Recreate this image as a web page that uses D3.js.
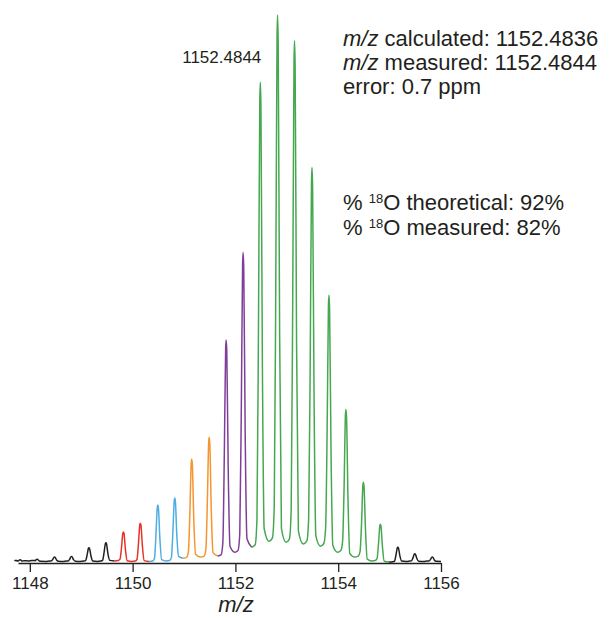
<!DOCTYPE html>
<html>
<head>
<meta charset="utf-8">
<script src="https://cdn.jsdelivr.net/npm/d3@7"></script>
<style>
  body { margin: 0; background: #fff; }
  svg text { font-family: "Liberation Sans", Arial, sans-serif; fill: #231f20; }
</style>
</head>
<body>
<svg id="ms-svg" width="613" height="618"></svg>
<script>
// isotope cluster, apex positions
const peakMz = [1147.81, 1148.14, 1148.48, 1148.81, 1149.15, 1149.48,
  1149.82, 1150.15, 1150.49, 1150.82, 1151.15, 1151.49, 1151.82, 1152.15,
  1152.4844, 1152.82, 1153.15, 1153.49, 1153.82, 1154.15, 1154.49, 1154.82,
  1155.16, 1155.49, 1155.83];
// relative intensity (%) at each apex
const peakInt = [0.4, 0.5, 0.9, 1.0, 2.6, 3.5,
  5.5, 7.1, 10.4, 11.7, 18.8, 22.8, 40.6, 56.6,
  87.7, 100, 95.3, 72.1, 48.8, 27.9, 14.6, 6.9,
  2.7, 1.5, 0.9];
// intensity of the valley following each peak
const valleyInt = [0.2, 0.1, 0.1, 0.1, 0.1, 0.2,
  0.1, 0.1, 0.2, 0.7, 0.9, 1.1, 1.8, 2.7,
  3.8, 3.6, 3.3, 2.9, 1.8, 0.9, 0.2, 0.0,
  0.1, 0.1, 0.1];
// colour group of each peak
const peakGroup = ['base', 'base', 'base', 'base', 'base', 'base',
  'red', 'red', 'blue', 'blue', 'orange', 'orange', 'purple', 'purple',
  'green', 'green', 'green', 'green', 'green', 'green', 'green', 'green',
  'base2', 'base2', 'base2'];
const groupColors = {
  base: '#231f20', red: '#e5332a', blue: '#4eaee2', orange: '#f4952f',
  purple: '#7f3f98', green: '#45a851', base2: '#231f20',
};

const xTicks = [1148, 1150, 1152, 1154, 1156];
const labelMz = 1152.4844;
const infoLines = [
  [['m/z', true], [' calculated: 1152.4836', false]],
  [['m/z', true], [' measured: 1152.4844', false]],
  [['error: 0.7 ppm', false]],
];
const isoLines = [
  ['% ', 'theoretical: 92%'],
  ['% ', 'measured: 82%'],
];

const svg = d3.select('#ms-svg');
const axisY = 563;

const xScale = d3.scaleLinear().domain([1147.77, 1156]).range([18, 441]);
const yScale = d3.scaleLinear().domain([0, 100]).range([axisY - 1, 15]);

/**
 * Builds the profile points of one peak, from the half-way point before it
 * to the half-way point after it
 */
function peakProfile(i) {
  const mz = peakMz[i];
  const h = peakInt[i];
  const lv = i > 0 ? valleyInt[i - 1] : 0.2;
  const rv = valleyInt[i];
  const left = i > 0 ? (peakMz[i - 1] + mz) / 2 : 1147.77;
  const right = i < peakMz.length - 1 ? (peakMz[i + 1] + mz) / 2 : 1156;
  return [
    [left, lv],
    [mz - 0.1, lv * 1.15 + 0.05],
    [mz - 0.065, lv * 1.3 + h * 0.05],
    [mz - 0.035, h * 0.5],
    [mz - 0.01, h * 0.96],
    [mz, h],
    [mz + 0.012, h * 0.95],
    [mz + 0.04, h * 0.42],
    [mz + 0.075, rv * 1.15 + h * 0.02],
    [right, rv],
  ];
}

const line = d3.line()
  .x((d) => xScale(d[0]))
  .y((d) => yScale(d[1]))
  .curve(d3.curveMonotoneX);

// one path per colour group
const groups = Array.from(new Set(peakGroup));
const plotG = svg.append('g').attr('id', 'spectrum');
groups.forEach((grp) => {
  let pts = [];
  peakMz.forEach((mz, i) => {
    if (peakGroup[i] !== grp) return;
    const p = peakProfile(i);
    pts = pts.length ? pts.concat(p.slice(1)) : p;
  });
  plotG.append('path')
    .attr('d', line(pts))
    .attr('fill', 'none')
    .attr('stroke', groupColors[grp])
    .attr('stroke-width', 1.5)
    .attr('stroke-linejoin', 'round');
});

// x axis
const axisG = svg.append('g')
  .attr('class', 'axis')
  .attr('transform', 'translate(0,' + axisY + ')')
  .call(d3.axisBottom(xScale).tickValues(xTicks).tickFormat(d3.format('d'))
    .tickSize(9).tickSizeOuter(0));
axisG.select('.domain').attr('stroke', '#231f20').attr('stroke-width', 1.3);
axisG.selectAll('.tick line').attr('stroke', '#231f20').attr('stroke-width', 1.3);
axisG.selectAll('.tick text')
  .attr('y', 14)
  .style('font-size', '17px')
  .style('font-family', '"Liberation Sans", Arial, sans-serif')
  .attr('fill', '#231f20');

// x label
svg.append('text')
  .attr('x', 236)
  .attr('y', 612)
  .attr('text-anchor', 'middle')
  .style('font-size', '22px')
  .style('font-style', 'italic')
  .text('m/z');

// peak label
svg.append('text')
  .attr('x', xScale(labelMz) + 1)
  .attr('y', 63)
  .attr('text-anchor', 'end')
  .style('font-size', '17px')
  .text(labelMz.toFixed(4));

// info block
infoLines.forEach((parts, i) => {
  const t = svg.append('text')
    .attr('x', 343)
    .attr('y', 46 + i * 24)
    .style('font-size', '22px');
  parts.forEach(([s, it]) => {
    t.append('tspan').style('font-style', it ? 'italic' : 'normal').text(s);
  });
});

isoLines.forEach(([a, b], i) => {
  const t = svg.append('text')
    .attr('x', 343)
    .attr('y', 210 + i * 25)
    .style('font-size', '22px');
  t.append('tspan').text(a);
  t.append('tspan').attr('dy', -7).style('font-size', '13px').text('18');
  t.append('tspan').attr('dy', 7).text('O ' + b);
});
</script>
</body>
</html>
